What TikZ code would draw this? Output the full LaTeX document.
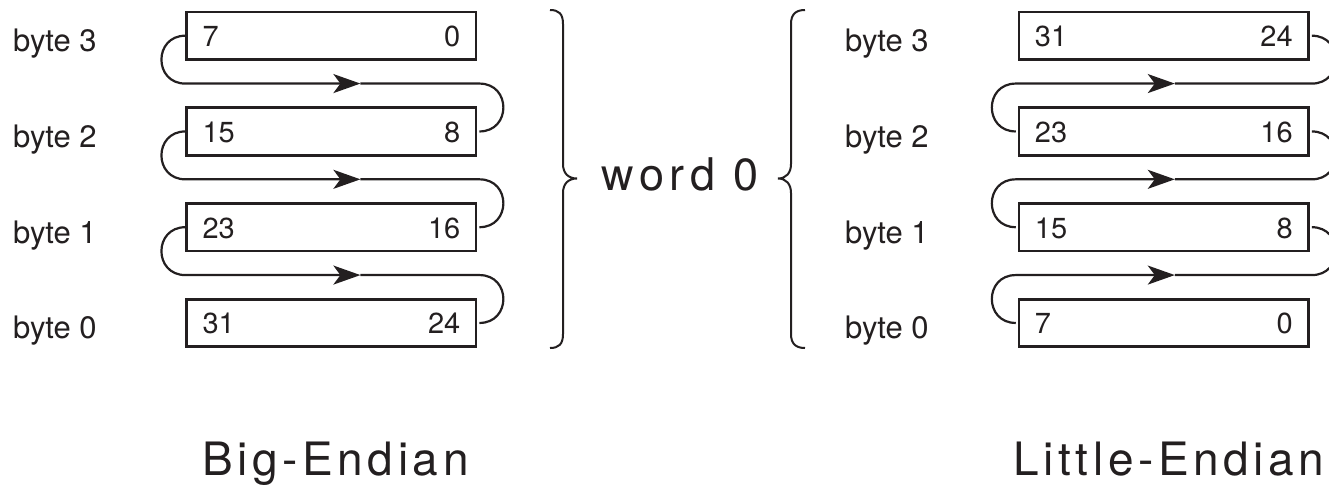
\documentclass[tikz,border=0pt]{standalone}
\usepackage{fontspec}
\setmainfont{TeX Gyre Heros}
\newfontfamily\spacedA[LetterSpace=10]{TeX Gyre Heros}
\newfontfamily\spacedB[LetterSpace=12]{TeX Gyre Heros}
\usetikzlibrary{arrows.meta,calc}
\definecolor{ink}{RGB}{35,31,32}
\begin{document}
\begin{tikzpicture}[x=1pt,y=1pt,color=ink,text=ink,
  bytebox/.style={draw,line width=2.6pt,minimum width=289.5pt,minimum height=47.5pt,inner sep=0pt},
  num/.style={font=\fontsize{29}{34}\selectfont,inner sep=0pt},
  lbl/.style={font=\fontsize{31}{36}\selectfont,inner sep=0pt,anchor=base west},
  flow/.style={line width=2.2pt},
  tipped/.style={-{Stealth[length=27pt,width=19pt,inset=7pt]}},
  bracepath/.style={line width=2pt},
  title/.style={font=\fontsize{46}{52}\selectfont\spacedA,inner sep=0pt,anchor=base}]
\useasboundingbox (0,0) rectangle (1329,-487);

% Big-Endian boxes
\foreach \n/\hi/\lo/\y in {3/7/0/35.7, 2/15/8/131.45, 1/23/16/227.2, 0/31/24/322.95}{
  \node[bytebox] (BE\n) at (331.4,-\y) {};
  \node[num,anchor=base west] (BEh\n) at ($(BE\n.west)+(17,-11)$) {\hi};
  \node[num,anchor=base east] (BEl\n) at ($(BE\n.east)+(-17,-11)$) {\lo};
  \node[lbl] (BEt\n) at (13,-\y-16) {byte \n};
}
% Little-Endian boxes
\foreach \n/\hi/\lo/\y in {3/31/24/35.7, 2/23/16/131.45, 1/15/8/227.2, 0/7/0/322.95}{
  \node[bytebox] (LE\n) at (1163.8,-\y) {};
  \node[num,anchor=base west] (LEh\n) at ($(LE\n.west)+(17,-11)$) {\hi};
  \node[num,anchor=base east] (LEl\n) at ($(LE\n.east)+(-17,-11)$) {\lo};
  \node[lbl] (LEt\n) at (845,-\y-16) {byte \n};
}

% Big-Endian flow
\foreach \a/\b in {BE3/BE2, BE2/BE1, BE1/BE0}{
  \coordinate (t\a) at ($(\a.center)!.5!(\b.center)+(29,0)$);
  \draw[flow,tipped] (\a.west) .. controls +(-31.9,0) and +(-31.9,0) .. ($(\a.west)!.5!(\b.west)$) -- (t\a);
  \draw[flow] (t\a) -- ($(\a.east)!.5!(\b.east)+(2,0)$) .. controls +(31.9,0) and +(31.9,0) .. ($(\b.east)+(2,0)$);
}
% Little-Endian flow
\foreach \a/\b in {LE3/LE2, LE2/LE1, LE1/LE0}{
  \coordinate (t\a) at ($(\a.center)!.5!(\b.center)+(11,0)$);
  \draw[flow,tipped] ($(\b.west)+(-2,0)$) .. controls +(-31.9,0) and +(-31.9,0) .. ($(\a.west)!.5!(\b.west)+(-2,0)$) -- (t\a);
  \draw[flow] (t\a) -- ($(\a.east)!.5!(\b.east)+(2,0)$) .. controls +(31.9,0) and +(31.9,0) .. ($(\a.east)+(2,0)$);
}

% braces
\draw[bracepath] (550,-10) .. controls (559,-10) and (563,-14) .. (563,-24) -- (563,-164)
  .. controls (563,-173) and (568,-178.5) .. (577,-178.5)
  .. controls (568,-178.5) and (563,-184) .. (563,-193) -- (563,-334)
  .. controls (563,-344) and (559,-348) .. (550,-348);
\draw[bracepath] (805,-10) .. controls (796,-10) and (791,-14) .. (791,-24) -- (791,-164)
  .. controls (791,-173) and (786,-178.5) .. (778,-178.5)
  .. controls (786,-178.5) and (791,-184) .. (791,-193) -- (791,-334)
  .. controls (791,-344) and (796,-348) .. (805,-348);
\node[font=\fontsize{45}{50}\selectfont\spacedB,inner sep=0pt,anchor=base] (word) at (680,-190) {word 0};

% titles
\node[title] (big) at (335.5,-475) {Big-Endian};
\node[title] (little) at (1169,-475) {Little-Endian};
\end{tikzpicture}
\end{document}
